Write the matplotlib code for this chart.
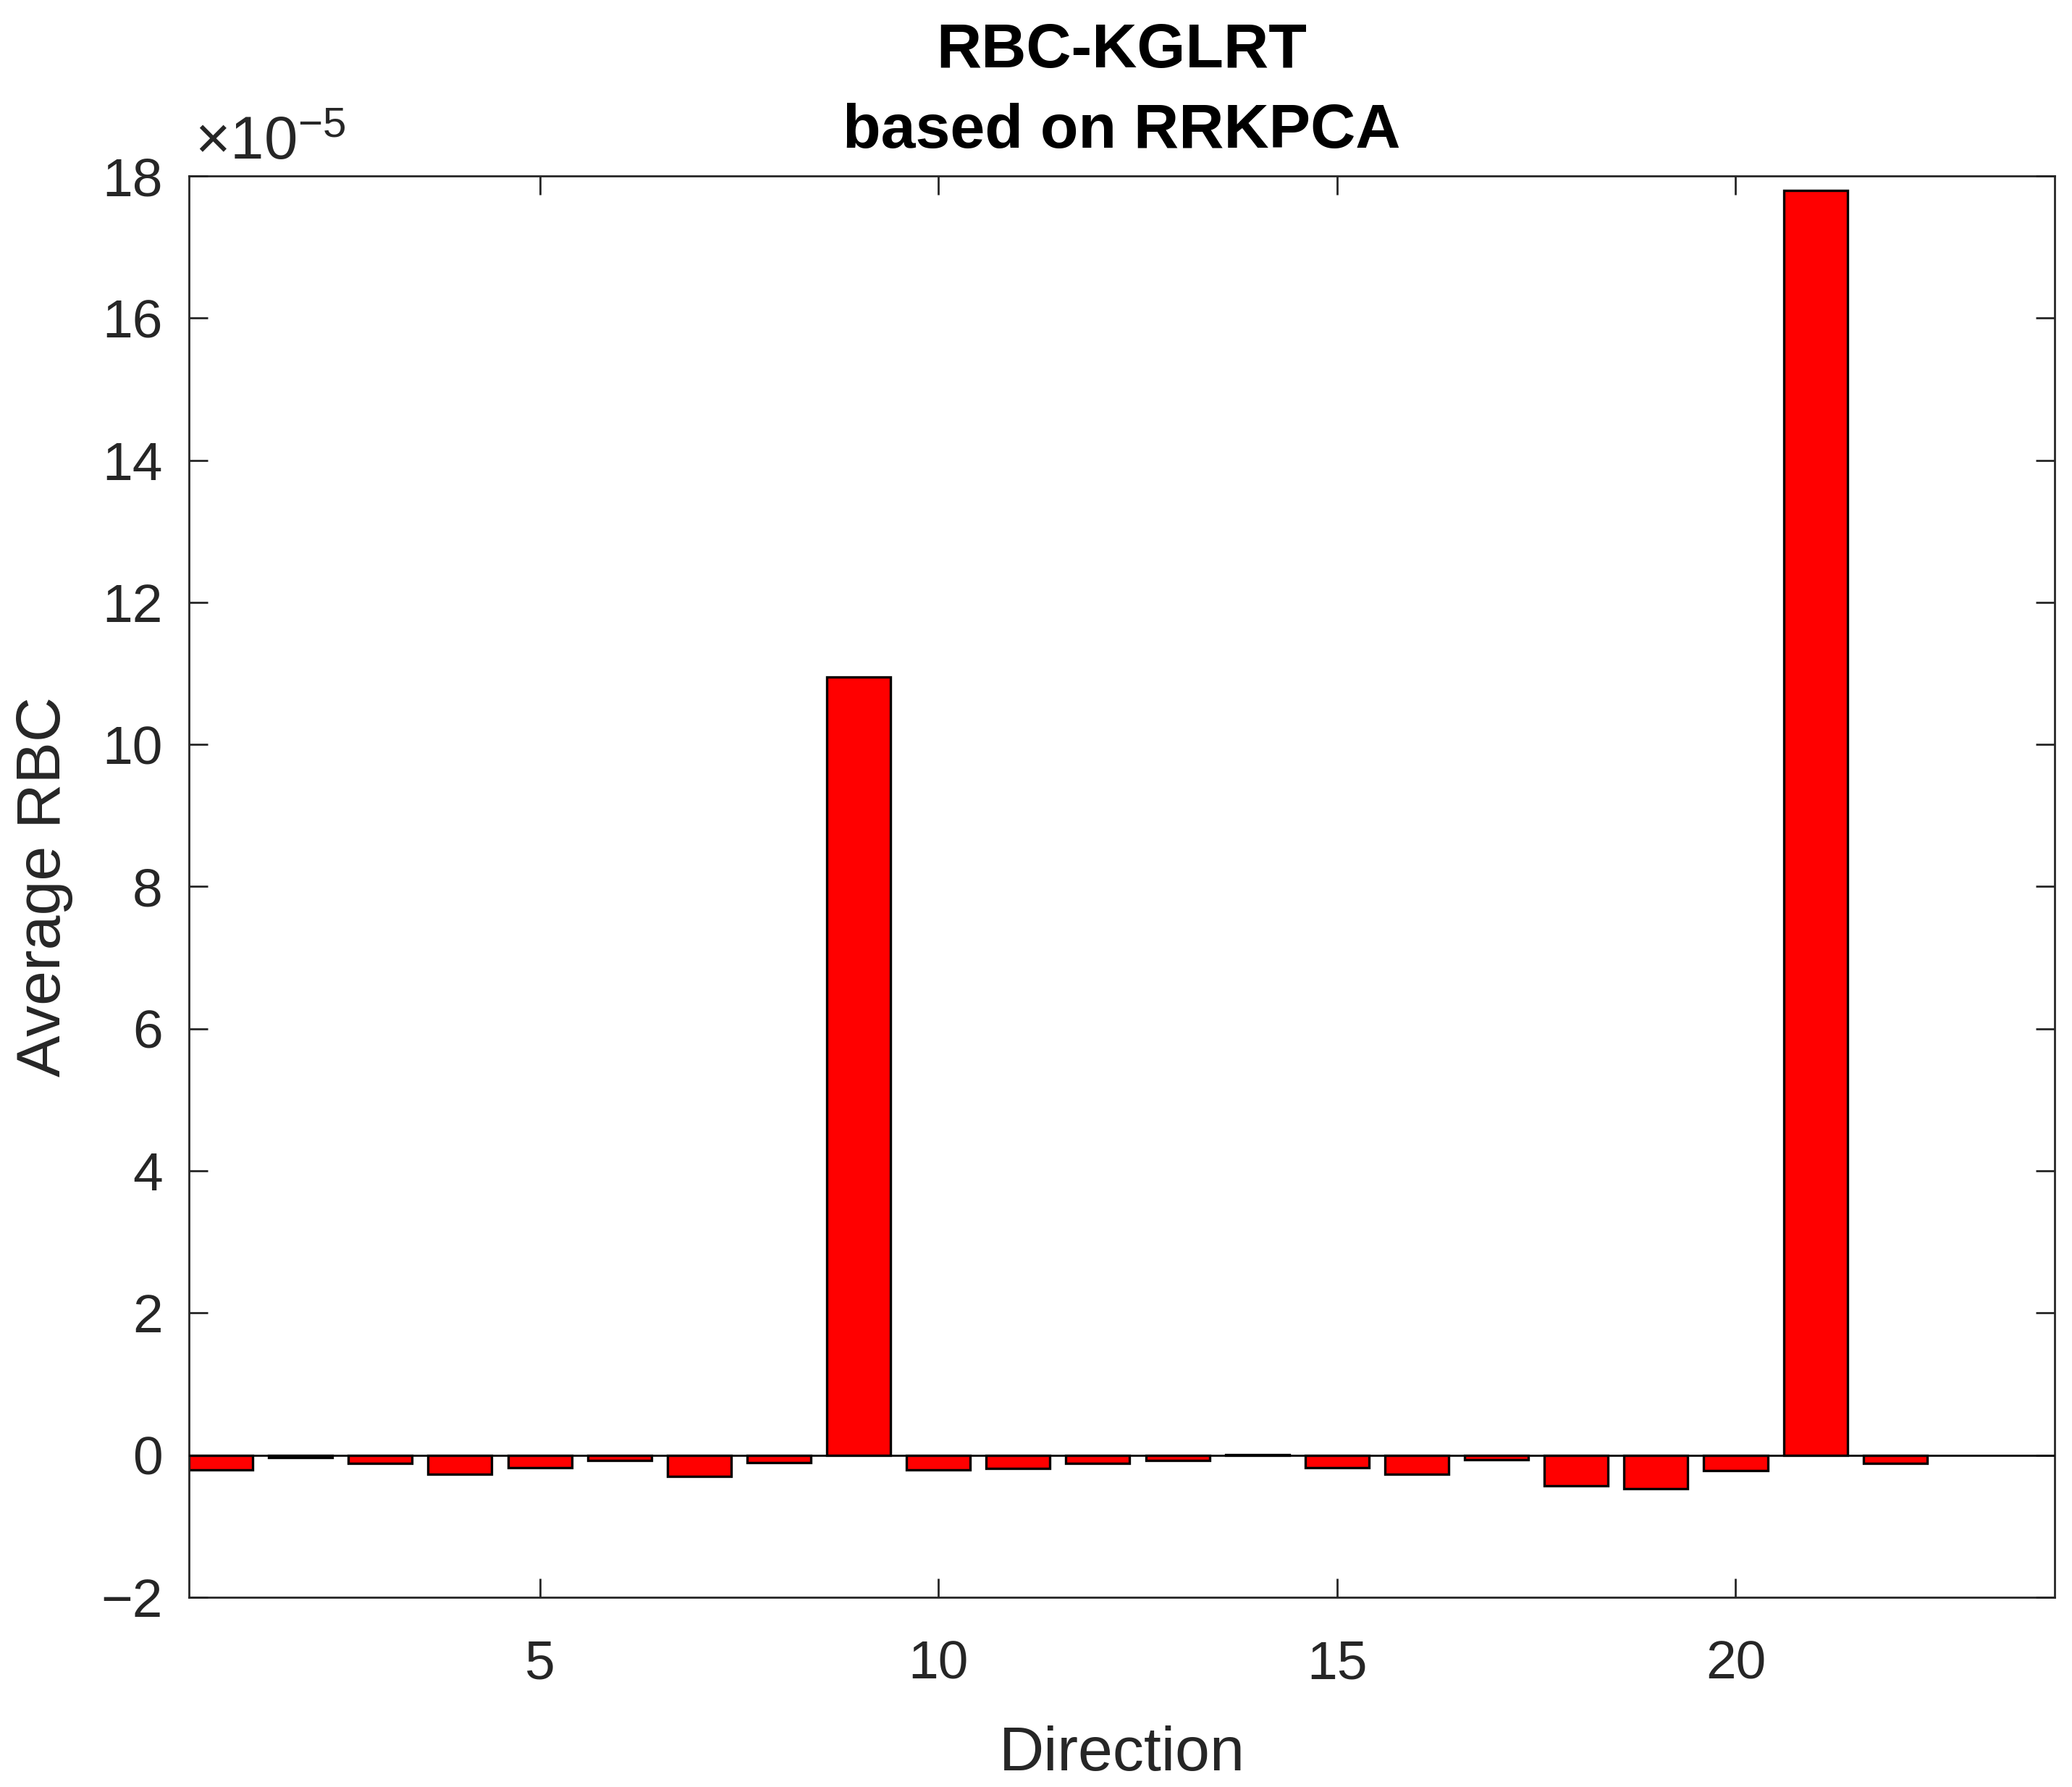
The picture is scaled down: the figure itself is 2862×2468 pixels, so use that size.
import matplotlib.pyplot as plt

plt.rcParams['font.family'] = ['Liberation Sans', 'DejaVu Sans']
plt.rcParams['mathtext.fontset'] = 'custom'
plt.rcParams['mathtext.rm'] = 'Liberation Sans'
plt.rcParams['mathtext.it'] = 'Liberation Sans:italic'

# average RBC per direction, in units of 1e-5
directions = list(range(1, 23))
rbc_e5 = [-0.21, -0.03, -0.12, -0.27, -0.18, -0.075, -0.30, -0.11, 10.95, -0.21, -0.19,
          -0.12, -0.08, 0.005, -0.18, -0.27, -0.07, -0.435, -0.47, -0.22, 17.8, -0.12]

xticks = [5, 10, 15, 20]
yticks = list(range(-2, 19, 2))

dark = (0.15, 0.15, 0.15)

fig = plt.figure(figsize=(14.31, 12.34), dpi=200)
ax = fig.add_axes([0.0912, 0.1062, 0.9004, 0.7953])

ax.bar(directions, rbc_e5, width=0.8, color="#ff0000", edgecolor="black", linewidth=1.2, zorder=2)
ax.axhline(0, color="black", linewidth=1.0, zorder=3)

ax.set_xlim(0.6, 24)
ax.set_ylim(-2, 18)
ax.set_xticks(xticks)
ax.set_yticks(yticks)

ax.tick_params(direction="in", length=9.5, width=1.0, top=True, right=True,
               labelsize=27, colors=dark)
ax.tick_params(axis="x", pad=21)
ax.tick_params(axis="y", pad=13)
for s in ax.spines.values():
    s.set_color(dark)
    s.set_linewidth(1.0)

ax.text(0.003, 1.003, r"$\times10^{-5}$", transform=ax.transAxes, fontsize=30,
        color=dark, ha="left", va="bottom")

ax.set_xlabel("Direction", fontsize=31, color=dark, labelpad=18)
ax.set_ylabel("Average RBC", fontsize=31, color=dark, labelpad=14)
ax.set_title("RBC-KGLRT\nbased on RRKPCA", fontsize=31, fontweight="bold",
             color="black", pad=14, linespacing=1.5)

fig.savefig("out.png", dpi=200)
